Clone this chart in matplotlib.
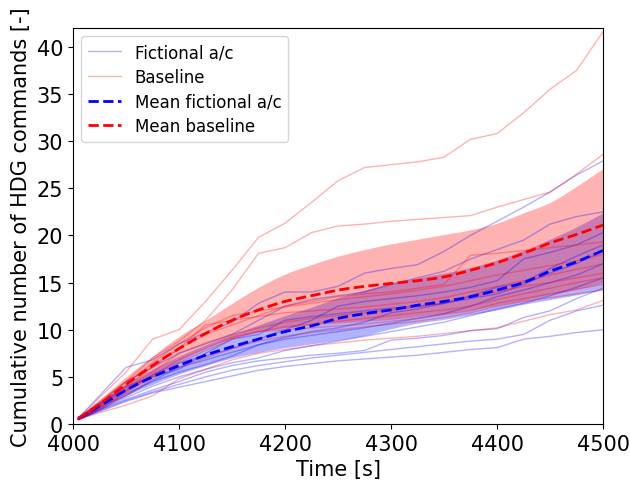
import numpy as np
import matplotlib
matplotlib.use("Agg")
import matplotlib.pyplot as plt

# Sample times [s]
time = [4005, 4025, 4050, 4075, 4100, 4125, 4150, 4175, 4200, 4225, 4250,
        4275, 4300, 4325, 4350, 4375, 4400, 4425, 4450, 4475, 4500]

# Cumulative HDG commands, fictional a/c runs
fict_runs = [
    [0.6, 3.0, 6.0, 6.8, 8.5, 9.7, 10.8, 12.8, 14.0, 14.0, 14.6, 16.0, 16.5, 16.9, 18.3, 20.0, 21.5, 23.0, 24.6, 26.4, 27.9],
    [0.5, 2.2, 4.5, 6.0, 7.5, 8.5, 9.5, 11.0, 12.5, 13.2, 13.6, 14.0, 14.8, 15.5, 16.2, 17.5, 18.5, 19.5, 21.2, 22.0, 22.5],
    [0.7, 2.0, 3.6, 5.2, 6.5, 7.2, 8.0, 9.0, 10.0, 11.0, 12.5, 13.0, 13.3, 13.6, 14.0, 14.5, 15.2, 17.5, 18.2, 19.0, 20.3],
    [0.5, 1.8, 3.0, 4.6, 6.0, 6.8, 7.6, 8.4, 9.2, 9.8, 10.2, 10.8, 11.8, 12.2, 12.8, 13.6, 14.5, 15.0, 16.5, 17.8, 19.0],
    [0.6, 2.2, 4.0, 5.0, 5.8, 7.5, 9.0, 9.5, 11.0, 11.4, 11.7, 12.0, 12.3, 12.5, 12.8, 13.3, 13.8, 14.8, 16.0, 17.0, 18.4],
    [0.6, 1.6, 3.2, 4.5, 5.5, 6.3, 7.2, 8.4, 9.0, 9.4, 9.8, 10.2, 10.7, 11.2, 11.7, 12.5, 13.5, 14.2, 15.0, 15.8, 17.0],
    [0.5, 1.5, 2.8, 4.0, 5.0, 5.8, 6.5, 7.0, 7.8, 8.3, 8.8, 9.3, 9.8, 10.3, 10.8, 11.5, 12.2, 12.8, 13.6, 14.5, 15.5],
    [0.6, 1.5, 2.6, 3.6, 4.5, 5.5, 6.2, 6.7, 7.0, 7.3, 7.5, 7.8, 8.9, 9.1, 9.4, 9.9, 10.1, 11.3, 12.0, 13.3, 14.4],
    [0.5, 1.4, 2.5, 3.4, 4.2, 5.0, 5.7, 6.2, 6.6, 7.0, 7.3, 7.6, 7.9, 8.2, 8.5, 8.8, 9.0, 9.5, 11.0, 12.0, 12.6],
    [0.5, 1.3, 2.4, 3.3, 3.9, 4.5, 5.1, 5.7, 6.1, 6.4, 6.7, 6.9, 7.1, 7.3, 7.6, 7.9, 8.1, 9.0, 9.3, 9.7, 10.0],
]

# Cumulative HDG commands, baseline runs
base_runs = [
    [0.6, 2.8, 5.5, 9.0, 10.0, 13.0, 16.3, 19.8, 21.3, 23.5, 25.8, 27.2, 27.5, 27.8, 28.3, 30.2, 30.8, 33.0, 35.5, 37.5, 41.6],
    [0.5, 2.2, 4.5, 7.0, 8.8, 11.0, 14.2, 18.1, 18.7, 20.3, 21.0, 21.2, 21.5, 21.7, 21.9, 22.1, 23.0, 23.8, 24.6, 26.5, 28.6],
    [0.6, 2.0, 4.0, 6.0, 8.0, 9.5, 10.5, 11.5, 12.5, 13.0, 13.5, 13.8, 14.0, 14.4, 14.8, 17.9, 18.1, 18.4, 18.7, 19.0, 19.3],
    [0.5, 1.8, 4.2, 6.5, 8.5, 10.2, 11.5, 12.0, 12.4, 12.8, 13.2, 13.5, 13.8, 14.2, 14.6, 15.2, 15.8, 16.3, 16.8, 17.3, 18.0],
    [0.6, 2.4, 4.5, 6.2, 8.0, 10.5, 11.0, 11.4, 11.8, 12.0, 12.2, 12.4, 12.7, 13.0, 13.4, 14.0, 14.6, 15.2, 15.8, 16.4, 17.0],
    [0.5, 2.0, 3.8, 5.5, 7.5, 8.6, 9.5, 10.2, 10.8, 11.2, 11.5, 11.8, 12.1, 12.4, 12.8, 13.5, 14.0, 14.6, 15.0, 15.5, 16.0],
    [0.7, 1.8, 3.5, 5.2, 6.8, 8.0, 9.2, 9.8, 10.3, 10.6, 10.9, 11.2, 11.5, 11.8, 12.1, 12.5, 13.2, 13.8, 14.4, 15.0, 15.5],
    [0.5, 1.5, 3.0, 4.8, 6.5, 7.8, 9.0, 9.8, 10.0, 10.2, 10.4, 10.6, 10.9, 11.2, 11.6, 12.0, 12.8, 13.3, 13.8, 14.3, 14.8],
    [0.6, 1.7, 3.3, 5.0, 6.0, 7.0, 8.0, 8.8, 9.3, 9.7, 10.0, 10.3, 10.6, 10.9, 11.3, 11.8, 12.5, 13.0, 13.4, 13.8, 14.2],
    [0.5, 1.2, 2.0, 3.0, 4.8, 5.8, 6.8, 7.5, 7.9, 8.3, 8.6, 8.9, 9.1, 9.3, 9.6, 9.9, 10.2, 10.9, 11.6, 12.1, 13.1],
]

# Mean curves and spread bands
fict_mean = [0.6, 1.9, 3.6, 5.0, 6.2, 7.3, 8.2, 9.0, 9.8, 10.4, 11.2, 11.7, 12.1, 12.6, 13.0, 13.5, 14.2, 15.0, 16.2, 17.2, 18.4]
fict_upper = [0.8, 2.3, 4.2, 5.8, 7.2, 8.4, 9.5, 10.5, 11.5, 12.4, 13.4, 14.2, 14.9, 15.5, 16.0, 16.6, 17.4, 18.4, 19.6, 20.9, 22.4]
fict_lower = [0.4, 1.5, 3.0, 4.2, 5.3, 6.2, 7.0, 7.6, 8.1, 8.5, 8.9, 9.4, 10.1, 10.7, 11.1, 11.6, 12.1, 12.7, 13.2, 13.7, 14.3]

base_mean = [0.6, 2.1, 4.2, 6.2, 8.0, 9.6, 11.0, 12.1, 13.0, 13.6, 14.2, 14.6, 14.9, 15.2, 15.6, 16.3, 17.1, 18.1, 19.2, 20.1, 21.1]
base_upper = [0.8, 2.6, 5.0, 7.2, 9.3, 11.0, 12.8, 14.5, 15.9, 16.9, 17.8, 18.5, 19.1, 19.6, 20.1, 20.6, 21.3, 22.4, 23.5, 25.2, 27.1]
base_lower = [0.4, 1.6, 3.4, 5.1, 6.7, 8.1, 9.1, 9.8, 10.2, 10.5, 10.7, 10.9, 11.1, 11.4, 11.7, 12.1, 12.6, 13.1, 13.7, 14.3, 15.0]


def smooth_curve(x, y, n=8):
    """Catmull-Rom interpolation through the given points."""
    x = np.asarray(x, float)
    y = np.asarray(y, float)
    px = np.concatenate([[2 * x[0] - x[1]], x, [2 * x[-1] - x[-2]]])
    py = np.concatenate([[2 * y[0] - y[1]], y, [2 * y[-1] - y[-2]]])
    xs, ys = [], []
    t = np.linspace(0, 1, n, endpoint=False)
    for i in range(1, len(px) - 2):
        for arr, out in ((px, xs), (py, ys)):
            p0, p1, p2, p3 = arr[i - 1], arr[i], arr[i + 1], arr[i + 2]
            out.append(0.5 * (2 * p1 + (-p0 + p2) * t
                              + (2 * p0 - 5 * p1 + 4 * p2 - p3) * t ** 2
                              + (-p0 + 3 * p1 - 3 * p2 + p3) * t ** 3))
    xs.append([x[-1]])
    ys.append([y[-1]])
    return np.concatenate(xs), np.concatenate(ys)


fig = plt.figure(figsize=(6.3, 4.85), dpi=100)
ax = fig.add_axes([0.1159, 0.1237, 0.8413, 0.8165])

for i, run in enumerate(fict_runs):
    ax.plot(time, run, color="blue", alpha=0.3, lw=1,
            label="Fictional a/c" if i == 0 else None)
for i, run in enumerate(base_runs):
    ax.plot(time, run, color="red", alpha=0.3, lw=1,
            label="Baseline" if i == 0 else None)

sx, fl = smooth_curve(time, fict_lower)
_, fu = smooth_curve(time, fict_upper)
_, bl = smooth_curve(time, base_lower)
_, bu = smooth_curve(time, base_upper)
_, fm = smooth_curve(time, fict_mean)
_, bm = smooth_curve(time, base_mean)

ax.fill_between(sx, fl, fu, color="blue", alpha=0.3, lw=0)
ax.fill_between(sx, bl, bu, color="red", alpha=0.3, lw=0)

ax.plot(sx, fm, color="blue", ls="--", lw=2, label="Mean fictional a/c")
ax.plot(sx, bm, color="red", ls="--", lw=2, label="Mean baseline")

ax.set_xlim(4000, 4500)
ax.set_ylim(0, 42)
ax.set_xticks(np.arange(4000, 4501, 100))
ax.set_yticks(np.arange(0, 41, 5))
ax.tick_params(labelsize=15)
ax.set_xlabel("Time [s]", fontsize=15)
ax.set_ylabel("Cumulative number of HDG commands [-]", fontsize=15)
ax.legend(loc="upper left", fontsize=12, labelspacing=0.4)

fig.savefig("out.png", dpi=100)
